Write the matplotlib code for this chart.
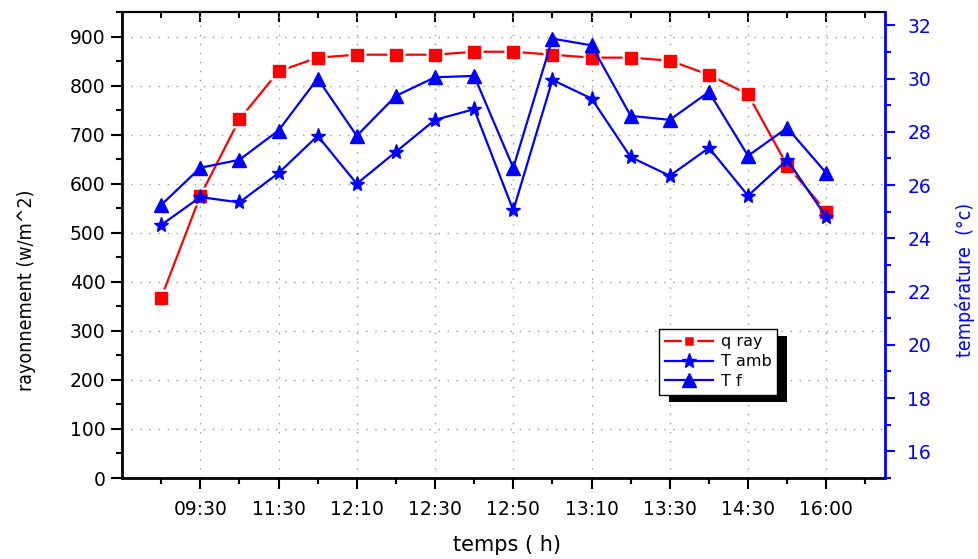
import numpy as np
import matplotlib
matplotlib.use('Agg')
import matplotlib.pyplot as plt
from matplotlib import font_manager as fm
from matplotlib.lines import Line2D
from matplotlib.patches import Rectangle
from matplotlib.ticker import MultipleLocator

# data
q_ray = [367, 575, 731, 829, 857, 863, 863, 863, 869, 869,
         863, 857, 857, 851, 822, 782, 637, 543]
t_amb = [24.5, 25.55, 25.35, 26.45, 27.85, 26.05, 27.25, 28.45, 28.85, 25.05,
         29.95, 29.25, 27.05, 26.35, 27.4, 25.6, 26.95, 24.8]
t_f = [25.25, 26.65, 26.95, 28.05, 30.0, 27.85, 29.35, 30.05, 30.1, 26.65,
       31.5, 31.25, 28.6, 28.45, 29.5, 27.1, 28.15, 26.45]
time_labels = ['09:30', '11:30', '12:10', '12:30', '12:50',
               '13:10', '13:30', '14:30', '16:00']

plt.rcParams['font.family'] = ['DejaVu Sans']

# the axis titles in the original are a condensed face; use one if there is one
narrow_font = None
narrow_size = 15
for f in fm.fontManager.ttflist:
    if f.name == 'Liberation Sans Narrow' and f.weight in (400, 'normal', 'regular') \
            and f.style == 'normal':
        narrow_font = f.fname
        break
if narrow_font is None:
    for f in fm.fontManager.ttflist:
        if f.name == 'DejaVu Sans' and 'Condensed' in f.fname and 'Bold' not in f.fname \
                and 'Oblique' not in f.fname:
            narrow_font = f.fname
            narrow_size = 14
            break
if narrow_font is not None:
    title_prop = dict(fontproperties=fm.FontProperties(fname=narrow_font, size=narrow_size))
else:
    title_prop = dict(family='Liberation Sans', fontsize=12.5)

x = np.arange(len(q_ray))

fig = plt.figure(figsize=(9.79, 5.59), dpi=100)
ax1 = fig.add_axes([0.1246, 0.1449, 0.7794, 0.8336])
ax2 = ax1.twinx()

# red series: solid line with a gap round each square
ax1.plot(x, q_ray, color='red', lw=1.6, zorder=2)
ax1.plot(x, q_ray, ls='none', marker='s', ms=13.5, mfc='white', mec='none', zorder=2.1)
ax1.plot(x, q_ray, ls='none', marker='s', ms=8.5, mfc='red', mec='red', zorder=2.2)

ax2.plot(x, t_amb, color='blue', lw=1.6, marker='*', ms=11, mfc='blue', mec='blue')
ax2.plot(x, t_f, color='blue', lw=1.6, marker='^', ms=10, mfc='blue', mec='blue')

ax1.set_xlim(-1, 18.5)
ax1.set_ylim(0, 950)
ax2.set_ylim(15, 32.5)

ax1.set_xticks(x[1::2])
ax1.set_xticklabels(time_labels)
ax1.set_xticks(np.arange(0, 19), minor=True)
ax1.yaxis.set_major_locator(MultipleLocator(100))
ax1.yaxis.set_minor_locator(MultipleLocator(50))
ax2.yaxis.set_major_locator(MultipleLocator(2))
ax2.yaxis.set_minor_locator(MultipleLocator(1))

ax1.tick_params(axis='x', which='major', direction='out', length=8, width=1.5, pad=8, labelsize=13.5)
ax1.tick_params(axis='x', which='minor', direction='out', length=4, width=1.5)
ax1.tick_params(axis='y', which='major', direction='out', length=8, width=1.5, pad=4, labelsize=13.5)
ax1.tick_params(axis='y', which='minor', direction='out', length=4, width=1.5)
ax2.tick_params(axis='y', which='major', direction='out', length=7, width=1.5, pad=9,
                labelsize=13.5, colors='blue')
ax2.tick_params(axis='y', which='minor', direction='out', length=4, width=1.5, colors='blue')

top = ax1.secondary_xaxis('top')
top.set_xticks(x[1::2])
top.set_xticks(np.arange(0, 19), minor=True)
top.set_xticklabels([])
top.tick_params(which='major', direction='in', length=7, width=1.5)
top.tick_params(which='minor', direction='in', length=4, width=1.5)
top.spines['top'].set_linewidth(1.5)

ax1.grid(True, which='major', color='#999999', lw=1.0, ls=(0, (1, 5.5)))

for s in ['left', 'bottom']:
    ax1.spines[s].set_linewidth(2)
ax1.spines['top'].set_linewidth(1.5)
ax1.spines['right'].set_visible(False)
for s in ['left', 'top', 'bottom']:
    ax2.spines[s].set_visible(False)
ax2.spines['right'].set_color('blue')
ax2.spines['right'].set_linewidth(2)

ax1.set_ylabel('rayonnement (w/m^2)', va='center', **title_prop)
ax1.yaxis.set_label_coords(-0.125, 0.403)
ax2.set_ylabel('température  (°c)', color='blue', va='center', rotation=90, **title_prop)
ax2.yaxis.set_label_coords(1.105, 0.425)
ax1.set_xlabel('temps ( h)', fontsize=15, va='center')
ax1.xaxis.set_label_coords(0.5046, -0.144)

handles = [
    Line2D([], [], color='red', lw=1.6, marker='s', ms=9, mfc='red', mec='white', mew=2.5),
    Line2D([], [], color='blue', lw=1.6, marker='*', ms=11, mfc='blue', mec='blue'),
    Line2D([], [], color='blue', lw=1.6, marker='^', ms=10, mfc='blue', mec='blue'),
]
leg = ax2.legend(handles, ['q ray', 'T amb', 'T f'], loc='upper left',
                 bbox_to_anchor=(0.704, 0.32), fontsize=11.5, frameon=True,
                 fancybox=False, framealpha=1, edgecolor='black',
                 handlelength=3.0, handletextpad=0.5, labelspacing=0.3,
                 borderaxespad=0, borderpad=0.35)
leg.get_frame().set_linewidth(1.0)
leg.set_zorder(6)

fig.canvas.draw()
bb = leg.get_window_extent().transformed(ax2.transAxes.inverted())
shadow = Rectangle((bb.x0 + 10 / 763, bb.y0 - 7 / 466), bb.width, bb.height,
                   transform=ax2.transAxes, facecolor='black', edgecolor='none',
                   zorder=5.5, clip_on=False)
ax2.add_patch(shadow)

fig.savefig('out.png', dpi=100)
